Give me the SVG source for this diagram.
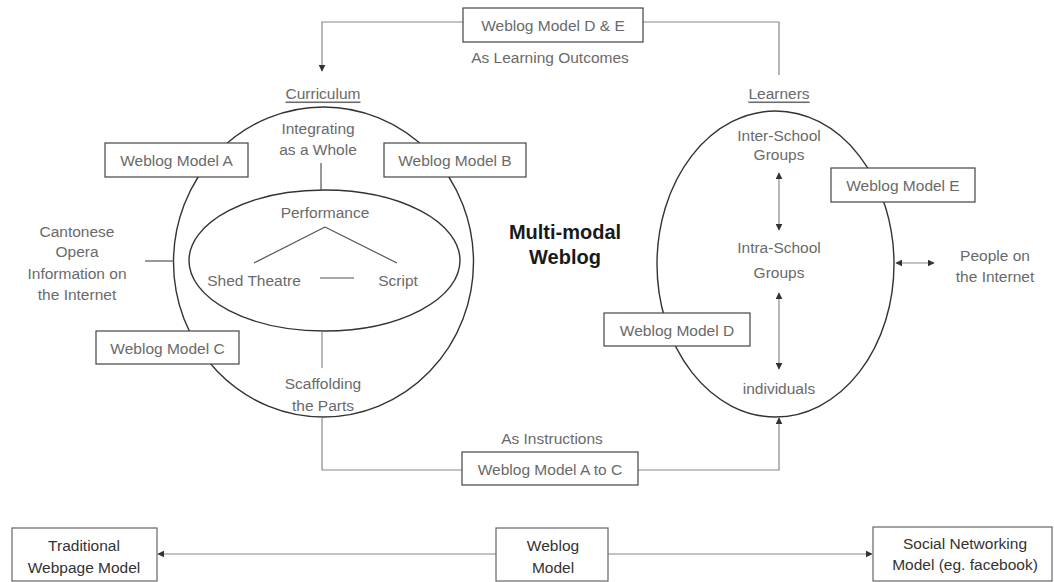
<svg xmlns="http://www.w3.org/2000/svg" width="1054" height="582" viewBox="0 0 1054 582">
<style>
text{font-family:"Liberation Sans",Arial,sans-serif;font-size:15.5px;fill:#6a6a6a;text-anchor:middle;dominant-baseline:central}
.box{fill:#fff;stroke:#444;stroke-width:1.2}
.bbox{fill:#fff;stroke:#666;stroke-width:1.2}
.ring{fill:none;stroke:#333;stroke-width:1.4}
.con{fill:none;stroke:#888;stroke-width:1.2}
.solid{fill:none;stroke:#555;stroke-width:1.2}
.bold{font-weight:bold;fill:#1a1a1a;font-size:20px}
.dark{fill:#333}
.ul{text-decoration:underline}
</style>
<defs>
<marker id="ah" viewBox="0 0 10 10" refX="9" refY="5" markerWidth="7" markerHeight="7" orient="auto-start-reverse" markerUnits="userSpaceOnUse">
<path d="M0,0 L10,5 L0,10 z" fill="#333"/>
</marker>
</defs>

<g id="rings">
<ellipse id="curriculum-circle" class="ring" cx="323.5" cy="262" rx="150" ry="155"/>
<ellipse id="inner-ellipse" class="ring" cx="324.5" cy="260.5" rx="135.5" ry="70.5"/>
<ellipse id="learners-ellipse" class="ring" cx="775.5" cy="264" rx="118.5" ry="153"/>
</g>

<g id="connectors">
<polyline class="con" points="463,22 322,22 322,71" marker-end="url(#ah)"/>
<polyline class="con" points="643,22 779,22 779,75"/>
<polyline class="con" points="322,417 322,470 462,470"/>
<polyline class="con" points="638,470 779,470 779,418" marker-end="url(#ah)"/>
<line class="solid" x1="321" y1="163" x2="321" y2="190"/>
<line class="con" x1="322" y1="331" x2="322" y2="368"/>
<line class="solid" x1="145" y1="261" x2="174" y2="261"/>
<line class="solid" x1="325" y1="227" x2="254" y2="263"/>
<line class="solid" x1="325" y1="227" x2="397" y2="263"/>
<line class="solid" x1="320" y1="278" x2="354" y2="278"/>
<line class="con" x1="779" y1="173" x2="779" y2="230" marker-start="url(#ah)" marker-end="url(#ah)"/>
<line class="con" x1="779" y1="293" x2="779" y2="369" marker-start="url(#ah)" marker-end="url(#ah)"/>
<line class="con" x1="896" y1="263" x2="934" y2="263" marker-start="url(#ah)" marker-end="url(#ah)"/>
<line class="con" x1="496" y1="554" x2="158" y2="554" marker-end="url(#ah)"/>
<line class="con" x1="608" y1="554" x2="872" y2="554" marker-end="url(#ah)"/>
</g>

<g id="node-de">
<rect class="box" x="463" y="8" width="180" height="34"/>
<text x="553" y="25">Weblog Model D &amp; E</text>
<text x="550" y="57">As Learning Outcomes</text>
</g>

<g id="node-curriculum"><text class="ul" x="323" y="93">Curriculum</text></g>
<g id="node-learners"><text class="ul" x="779" y="93">Learners</text></g>

<g id="node-integrating">
<text x="318" y="128">Integrating</text>
<text x="318" y="149">as a Whole</text>
</g>

<g id="node-a">
<rect class="box" x="105" y="143" width="143" height="34"/>
<text x="176.5" y="160">Weblog Model A</text>
</g>
<g id="node-b">
<rect class="box" x="384" y="143" width="142" height="34"/>
<text x="455" y="160">Weblog Model B</text>
</g>

<g id="node-performance"><text x="325" y="212">Performance</text></g>
<g id="node-shed"><text x="254" y="280">Shed Theatre</text></g>
<g id="node-script"><text x="398" y="280">Script</text></g>

<g id="node-cantonese">
<text x="77" y="231">Cantonese</text>
<text x="77" y="251">Opera</text>
<text x="77" y="273">Information on</text>
<text x="77" y="294">the Internet</text>
</g>

<g id="node-multimodal">
<text class="bold" x="565" y="232">Multi-modal</text>
<text class="bold" x="565" y="257">Weblog</text>
</g>

<g id="node-c">
<rect class="box" x="96" y="331" width="143" height="33"/>
<text x="167.5" y="348">Weblog Model C</text>
</g>

<g id="node-scaffolding">
<text x="323" y="383">Scaffolding</text>
<text x="323" y="405">the Parts</text>
</g>

<g id="node-atoc">
<text x="552" y="438">As Instructions</text>
<rect class="box" x="462" y="452" width="176" height="33"/>
<text x="550" y="469">Weblog Model A to C</text>
</g>

<g id="node-inter">
<text x="779" y="135">Inter-School</text>
<text x="779" y="154">Groups</text>
</g>
<g id="node-intra">
<text x="779" y="247">Intra-School</text>
<text x="779" y="272">Groups</text>
</g>
<g id="node-individuals"><text x="779" y="388">individuals</text></g>

<g id="node-e">
<rect class="box" x="831" y="168" width="144" height="34"/>
<text x="903" y="185">Weblog Model E</text>
</g>
<g id="node-d">
<rect class="box" x="604" y="313" width="146" height="33"/>
<text x="677" y="330">Weblog Model D</text>
</g>

<g id="node-people">
<text x="995" y="255">People on</text>
<text x="995" y="276">the Internet</text>
</g>

<g id="node-traditional">
<rect class="bbox" x="12" y="528" width="145" height="53"/>
<text class="dark" x="84" y="545">Traditional</text>
<text class="dark" x="84" y="567">Webpage Model</text>
</g>
<g id="node-weblog">
<rect class="bbox" x="496" y="528" width="112" height="53"/>
<text class="dark" x="553" y="545">Weblog</text>
<text class="dark" x="553" y="567">Model</text>
</g>
<g id="node-social">
<rect class="bbox" x="873" y="527" width="179" height="54"/>
<text class="dark" x="965" y="543">Social Networking</text>
<text class="dark" x="965" y="564">Model (eg. facebook)</text>
</g>
</svg>
